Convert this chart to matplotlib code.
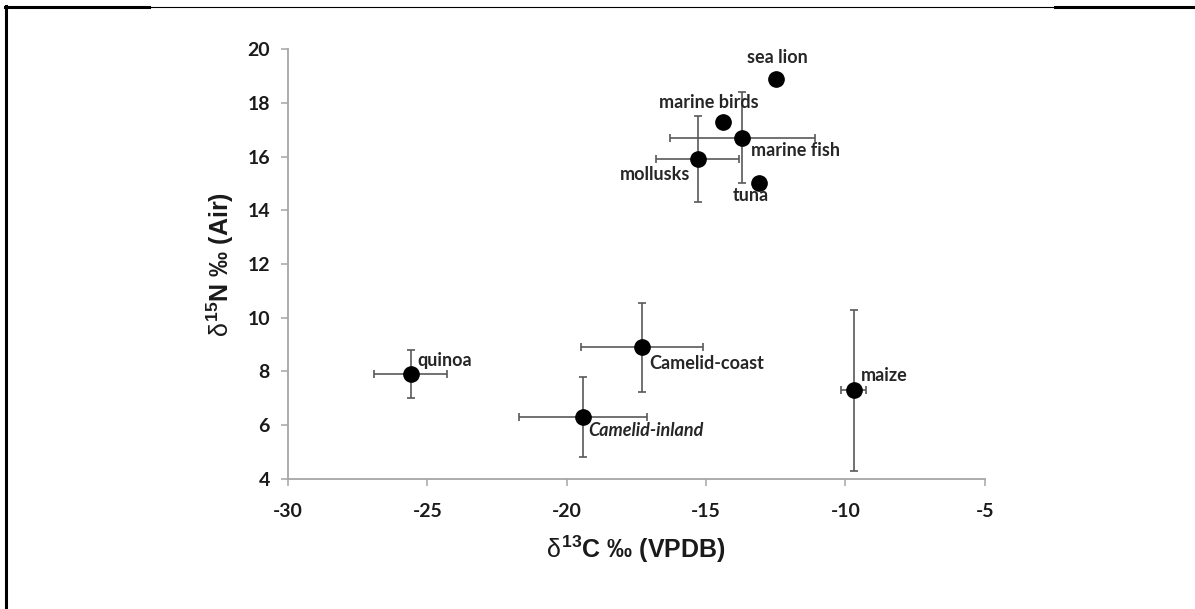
import matplotlib
matplotlib.use('Agg')
import matplotlib.pyplot as plt
from matplotlib.lines import Line2D
from matplotlib import font_manager

# isotope means and 1 SD for each food group
groups = ['sea lion', 'marine birds', 'marine fish', 'mollusks', 'tuna',
          'quinoa', 'Camelid-coast', 'Camelid-inland', 'maize']
d13c = [-12.5, -14.4, -13.7, -15.3, -13.1, -25.6, -17.3, -19.4, -9.7]
d15n = [18.9, 17.3, 16.7, 15.9, 15.0, 7.9, 8.9, 6.3, 7.3]
d13c_sd = [0, 0, 2.6, 1.5, 0, 1.3, 2.2, 2.3, 0.45]
d15n_sd = [0, 0, 1.7, 1.6, 0, 0.9, 1.65, 1.5, 3.0]

x_ticks = [-30, -25, -20, -15, -10, -5]
y_ticks = [4, 6, 8, 10, 12, 14, 16, 18, 20]

names = {f.name for f in font_manager.fontManager.ttflist}
label_font = 'Lato' if 'Lato' in names else 'DejaVu Sans'
axis_font = 'Liberation Sans Narrow' if 'Liberation Sans Narrow' in names else 'Liberation Sans'

plt.rcParams['axes.unicode_minus'] = False
plt.rcParams['mathtext.fontset'] = 'custom'
plt.rcParams['mathtext.rm'] = axis_font
plt.rcParams['mathtext.it'] = axis_font
plt.rcParams['mathtext.bf'] = axis_font + ':bold'

fig = plt.figure(figsize=(11.95, 6.09), dpi=100)
ax = fig.add_axes([0.241, 0.2135, 0.583, 0.706])

ax.errorbar(d13c, d15n, xerr=d13c_sd, yerr=d15n_sd, fmt='none',
            ecolor='#595959', elinewidth=1.2, capsize=3, capthick=1.2, zorder=2)
ax.plot(d13c, d15n, 'o', color='black', markersize=11, zorder=3)

# label offsets in points from each point
offsets = {
    'sea lion': (1, 15, 'center'),
    'marine birds': (-10, 14, 'center'),
    'marine fish': (6, -9, 'left'),
    'mollusks': (-5, -11, 'right'),
    'tuna': (-19, -9, 'left'),
    'quinoa': (5, 10, 'left'),
    'Camelid-coast': (5, -11.5, 'left'),
    'Camelid-inland': (3.6, -9.5, 'left'),
    'maize': (5, 11, 'left'),
}
for g, x, y in zip(groups, d13c, d15n):
    dx, dy, ha = offsets[g]
    style = 'italic' if g == 'Camelid-inland' else 'normal'
    ax.annotate(g, (x, y), xytext=(dx, dy), textcoords='offset points',
                ha=ha, va='center', fontsize=13, fontweight='bold',
                fontstyle=style, color='#262626', family=label_font)

ax.set_xlim(-30, -5)
ax.set_ylim(4, 20)
ax.set_xticks(x_ticks)
ax.set_yticks(y_ticks)
for s in ['top', 'right']:
    ax.spines[s].set_visible(False)
for s in ['left', 'bottom']:
    ax.spines[s].set_color('#a6a6a6')
    ax.spines[s].set_linewidth(1.3)
ax.tick_params(colors='#a6a6a6', length=5, width=1.1)
ax.tick_params(axis='x', pad=12)
ax.tick_params(axis='y', pad=8)
for lab in ax.get_xticklabels() + ax.get_yticklabels():
    lab.set_color('#1a1a1a')
    lab.set_fontsize(14)
    lab.set_fontweight('bold')
    lab.set_family(label_font)

ax.set_xlabel(r'$\delta^{\mathbf{13}}$C ‰ (VPDB)', fontsize=18, fontweight='bold',
              family=axis_font, color='#1a1a1a', labelpad=10)
ax.set_ylabel(r'$\delta^{\mathbf{15}}$N ‰ (Air)', fontsize=18, fontweight='bold',
              family=axis_font, color='#1a1a1a', labelpad=8)

# page frame lines
W, H = 1195, 609
fig.add_artist(Line2D([5.5 / W, 5.5 / W], [0, 1 - 6 / H], transform=fig.transFigure,
                      color='black', lw=2.2))
fig.add_artist(Line2D([4.5 / W, 149 / W], [1 - 7 / H] * 2, transform=fig.transFigure,
                      color='black', lw=2.2))
fig.add_artist(Line2D([149 / W, 1055 / W], [1 - 7 / H] * 2, transform=fig.transFigure,
                      color='black', lw=0.8))
fig.add_artist(Line2D([1055 / W, 1], [1 - 7 / H] * 2, transform=fig.transFigure,
                      color='black', lw=2.2))

fig.savefig('out.png', dpi=100)
